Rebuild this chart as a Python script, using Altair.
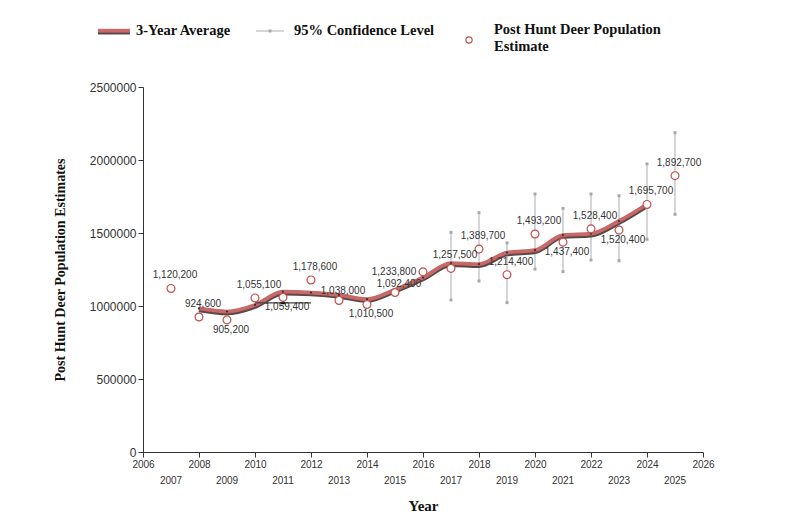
import altair as alt
import pandas as pd

# Post-hunt deer population estimates by year
years = list(range(2007, 2026))
estimates = [1120200, 924600, 905200, 1055100, 1059400, 1178600, 1038000,
             1010500, 1092400, 1233800, 1257500, 1389700, 1214400, 1493200,
             1437400, 1528400, 1520400, 1695700, 1892700]

# Three-year running average
avg_years = list(range(2008, 2025))
avg_values = [983000, 962000, 1007000, 1098000, 1092000, 1076000, 1047000,
              1112000, 1195000, 1294000, 1287000, 1366000, 1382000, 1486000,
              1495000, 1582000, 1697000]

# 95% confidence limits
ci_years = list(range(2017, 2026))
ci_low = [1041000, 1171000, 1023000, 1253000, 1235000, 1315000, 1310000,
          1457000, 1628000]
ci_high = [1505000, 1639000, 1432000, 1767000, 1669000, 1767000, 1755000,
           1973000, 2187000]

# Axis tick years; odd years are labelled on a second row
tick_years = list(range(2006, 2027))
odd_tick_years = list(range(2007, 2026, 2))

# Marker under the 2011 estimate
marker_year = 2011
marker_value = 1029000
marker_span = [2010, 2012]
marker_span_value = 1022000

# Which labels sit under or left of their point
below_years = [2009, 2011, 2014, 2021, 2023]
left_years = [2016]
low_years = [2013, 2015]

est_df = pd.DataFrame({"year": years, "estimate": estimates})
avg_df = pd.DataFrame({"year": avg_years, "avg": avg_values})
ci_df = pd.DataFrame({"year": ci_years, "low": ci_low, "high": ci_high})
odd_df = pd.DataFrame({"year": odd_tick_years})

SANS = "Liberation Sans"
SERIF = "Liberation Serif"
RED = "#c86868"
PT_RED = "#c0504d"
H = 365

x_scale = alt.Scale(domain=[2006, 2026], nice=False, zero=False)
y_scale = alt.Scale(domain=[0, 2500000], nice=False)

x_axis = alt.Axis(
    title="Year", values=tick_years, format="d",
    labelExpr="datum.value % 2 == 1 ? '' : datum.label",
    labelOverlap=False, labelFlush=False,
    labelFont=SANS, labelFontSize=10, labelColor="#333",
    titleFont=SERIF, titleFontSize=15, titleFontWeight="bold",
    titleColor="#111", titlePadding=29, tickSize=5,
    domainColor="#333", tickColor="#333", grid=False,
)
y_axis = alt.Axis(
    title="Post Hunt Deer Population Estimates",
    values=[0, 500000, 1000000, 1500000, 2000000, 2500000], format="d",
    labelFont=SANS, labelFontSize=12, labelColor="#333",
    titleFont=SERIF, titleFontSize=14, titleFontWeight="bold",
    titleColor="#111", titlePadding=22, tickSize=5,
    domainColor="#333", tickColor="#333", grid=False,
)

X = alt.X("year:Q", scale=x_scale, axis=x_axis)

ci_rules = alt.Chart(ci_df).mark_rule(color="#c8c8c8", strokeWidth=1.5).encode(
    x=X,
    y=alt.Y("low:Q", scale=y_scale, axis=y_axis),
    y2="high:Q",
)
ci_caps = alt.Chart(ci_df).transform_fold(["low", "high"], as_=["end", "val"]).mark_square(
    size=9, color="#a8a8a8", opacity=1
).encode(x="year:Q", y="val:Q")

odd_labels = alt.Chart(odd_df).mark_text(
    font=SANS, fontSize=10, color="#333", baseline="top"
).encode(x="year:Q", y=alt.value(H + 24), text=alt.Text("year:Q", format="d"))

avg_shadow = alt.Chart(avg_df).mark_line(
    interpolate="monotone", color="#5a4848", strokeWidth=5, yOffset=1.3
).encode(x="year:Q", y="avg:Q")
avg_line = alt.Chart(avg_df).mark_line(
    interpolate="monotone", color=RED, strokeWidth=3.8
).encode(x="year:Q", y="avg:Q")
avg_dots = alt.Chart(avg_df).mark_point(
    filled=True, size=5, color="#333", opacity=1
).encode(x="year:Q", y="avg:Q")

marker_df = pd.DataFrame({"year": [marker_year], "v": [marker_value],
                          "x1": [marker_span[0]], "x2": [marker_span[1]],
                          "hv": [marker_span_value]})
marker_rule = alt.Chart(marker_df).mark_rule(color="#444", strokeWidth=1.2).encode(
    x="x1:Q", x2="x2:Q", y="hv:Q"
)
marker_tri = alt.Chart(marker_df).mark_point(
    shape="triangle-up", filled=True, size=30, color="#111", opacity=1
).encode(x="year:Q", y="v:Q")

points = alt.Chart(est_df).mark_point(
    shape="circle", filled=False, fill="white", stroke=PT_RED, strokeWidth=1.2,
    size=62, opacity=1, fillOpacity=1
).encode(x="year:Q", y="estimate:Q")

label_base = alt.Chart(est_df).encode(
    x="year:Q", y="estimate:Q", text=alt.Text("estimate:Q", format=",d")
)
text_style = dict(font=SANS, fontSize=10, color="#333")
labels_above = label_base.transform_filter(
    f"indexof({below_years + left_years + low_years}, datum.year) < 0"
).mark_text(dx=4, dy=-13, **text_style)
labels_low = label_base.transform_filter(
    f"indexof({low_years}, datum.year) >= 0"
).mark_text(dx=4, dy=-9, **text_style)
labels_below = label_base.transform_filter(
    f"indexof({below_years}, datum.year) >= 0"
).mark_text(dx=4, dy=10, **text_style)
labels_left = label_base.transform_filter(
    f"indexof({left_years}, datum.year) >= 0"
).mark_text(dx=-29, dy=0, **text_style)

# Legend drawn above the plot area
one = pd.DataFrame({"k": [0]})
leg_font = dict(font=SERIF, fontSize=14.5, fontWeight="bold", color="#111",
                align="left", baseline="middle")
leg_red_shadow = alt.Chart(one).mark_rule(color="#5a4848", strokeWidth=5).encode(
    x=alt.value(-45), x2=alt.value(-13), y=alt.value(-55))
leg_red = alt.Chart(one).mark_rule(color=RED, strokeWidth=3.8).encode(
    x=alt.value(-45), x2=alt.value(-13), y=alt.value(-56.3))
leg_red_text = alt.Chart(one).mark_text(**leg_font).encode(
    x=alt.value(-7), y=alt.value(-56), text=alt.value("3-Year Average"))
leg_gray = alt.Chart(one).mark_rule(color="#c8c8c8", strokeWidth=1.5).encode(
    x=alt.value(113), x2=alt.value(141), y=alt.value(-56))
leg_gray_dot = alt.Chart(one).mark_square(size=9, color="#a8a8a8", opacity=1).encode(
    x=alt.value(127), y=alt.value(-56))
leg_gray_text = alt.Chart(one).mark_text(**leg_font).encode(
    x=alt.value(151), y=alt.value(-56), text=alt.value("95% Confidence Level"))
leg_circle = alt.Chart(one).mark_point(
    shape="circle", filled=False, fill="white", stroke=PT_RED, strokeWidth=1.2,
    size=40, opacity=1).encode(x=alt.value(326), y=alt.value(-47))
leg_pt_text = alt.Chart(one).mark_text(lineHeight=17, **leg_font).encode(
    x=alt.value(351), y=alt.value(-57),
    text=alt.value(["Post Hunt Deer Population", "Estimate"]))

chart = alt.layer(
    ci_rules, ci_caps, odd_labels, avg_shadow, avg_line, avg_dots, marker_rule,
    marker_tri, points, labels_above, labels_low, labels_below, labels_left,
    leg_red_shadow, leg_red, leg_red_text, leg_gray, leg_gray_dot,
    leg_gray_text, leg_circle, leg_pt_text,
).properties(
    width=560, height=H,
    padding={"left": 143, "top": 87, "right": 97, "bottom": 74},
    autosize=alt.AutoSizeParams(type="none"),
    background="white",
).configure_view(stroke=None)

chart.save("out.html", embed_options={"renderer": "svg", "actions": False})
